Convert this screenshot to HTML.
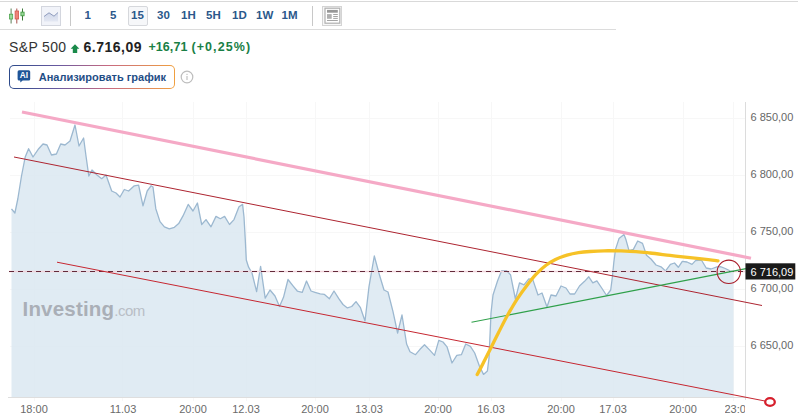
<!DOCTYPE html>
<html><head><meta charset="utf-8">
<style>
html,body{margin:0;padding:0;background:#fff;}
body{width:798px;height:419px;overflow:hidden;position:relative;font-family:"Liberation Sans",sans-serif;}
.abs{position:absolute;}
.tb{position:absolute;top:8px;font-size:11.5px;font-weight:bold;color:#2b588b;letter-spacing:0;line-height:14px;}
.xl{position:absolute;top:403px;font-size:11px;color:#6a6a6a;line-height:12px;transform:translateX(-50%);white-space:nowrap;}
.yl{position:absolute;left:750.500px;font-size:11px;color:#666;line-height:12px;white-space:nowrap;}
</style></head><body>
<!-- top border and toolbar line -->
<div class="abs" style="left:0;top:1px;width:798px;height:1px;background:#d9d9d9;"></div>
<div class="abs" style="left:0;top:29px;width:616px;height:1px;background:#dcdcdc;"></div>

<!-- candle icon -->
<svg class="abs" style="left:8px;top:7px" width="18" height="18" viewBox="0 0 18 18">
 <line x1="3.100" y1="1.500" x2="3.100" y2="16.500" stroke="#5d7f58" stroke-width="1"/>
 <rect x="1.500" y="7.200" width="3.200" height="4.800" fill="#9ad89a" stroke="#4fa54f" stroke-width="0.800"/>
 <line x1="8.800" y1="1.500" x2="8.800" y2="16.500" stroke="#a8504a" stroke-width="1"/>
 <rect x="7.100" y="4" width="3.500" height="8" fill="#ee8278" stroke="#d2554c" stroke-width="0.800"/>
 <line x1="14.500" y1="1.500" x2="14.500" y2="13.500" stroke="#3f7a3a" stroke-width="1"/>
 <rect x="12.900" y="5.100" width="3.200" height="3.700" fill="#9ad89a" stroke="#3d9a3d" stroke-width="0.800"/>
</svg>
<!-- area icon button -->
<div class="abs" style="left:41px;top:6px;width:20px;height:19.500px;border:1px solid #d3d6de;background:#f1f3f9;box-sizing:border-box;"></div>
<svg class="abs" style="left:41px;top:6px" width="20" height="20" viewBox="0 0 20 20">
 <defs><linearGradient id="ag" x1="0" y1="0" x2="0" y2="1"><stop offset="0" stop-color="#cfd7ea"/><stop offset="1" stop-color="#e3e7f2"/></linearGradient></defs>
 <polygon points="3,10.500 8,6.800 13,10.200 17,6.500 17,15.500 3,15.500" fill="url(#ag)"/>
 <polyline points="3,10.500 8,6.800 13,10.200 17,6.500" fill="none" stroke="#8e9bbd" stroke-width="1"/>
</svg>
<div class="abs" style="left:70px;top:6px;width:1px;height:20px;background:#c8c8c8;"></div>

<div class="tb" style="left:84.5px">1</div>
<div class="tb" style="left:110px">5</div>
<div class="abs" style="left:128px;top:6px;width:19.700px;height:19.500px;border:1px solid #d6d8dc;border-radius:2px;background:#f6f7f9;box-sizing:border-box;"></div>
<div class="tb" style="left:131px">15</div>
<div class="tb" style="left:157px">30</div>
<div class="tb" style="left:181px">1H</div>
<div class="tb" style="left:206px">5H</div>
<div class="tb" style="left:232px">1D</div>
<div class="tb" style="left:256px">1W</div>
<div class="tb" style="left:281.5px">1M</div>
<div class="abs" style="left:312px;top:6px;width:1px;height:20px;background:#c8c8c8;"></div>
<!-- news icon -->
<div class="abs" style="left:322px;top:6px;width:20px;height:19.500px;border:1px solid #d4d4d4;background:#f7f7f7;box-sizing:border-box;"></div>
<svg class="abs" style="left:322px;top:6px" width="20" height="20" viewBox="0 0 20 20">
 <rect x="3" y="2.200" width="14.800" height="15" fill="#fff" stroke="#b0b0b0" stroke-width="1.200"/>
 <rect x="5" y="3.900" width="10.800" height="2.800" fill="#989898"/>
 <rect x="5" y="8.100" width="4.700" height="4.700" fill="#b0b0b0"/>
 <rect x="11.200" y="8.100" width="4.600" height="0.900" fill="#9a9a9a"/>
 <rect x="11.200" y="10" width="4.600" height="0.900" fill="#9a9a9a"/>
 <rect x="11.200" y="11.900" width="4.600" height="0.900" fill="#9a9a9a"/>
 <rect x="5" y="14" width="10.800" height="0.900" fill="#9a9a9a"/>
</svg>

<!-- title -->
<div class="abs" style="left:9px;top:40px;font-size:14px;letter-spacing:0.35px;color:#333;line-height:15px;white-space:nowrap;">S&amp;P 500</div>
<svg class="abs" style="left:69px;top:42px" width="12" height="12" viewBox="0 0 12 12"><polygon points="6,2.3 10.4,6.8 8.2,6.8 8.2,11 3.8,11 3.8,6.8 1.6,6.8" fill="#1a8a4a"/></svg>
<div class="abs" style="left:83.5px;top:40px;font-size:14px;letter-spacing:0.5px;font-weight:bold;color:#222;line-height:15px;white-space:nowrap;">6.716,09</div>
<div class="abs" style="left:148.500px;top:40px;font-size:12.500px;letter-spacing:0.050px;font-weight:bold;color:#1a7f46;line-height:15px;white-space:nowrap;">+16,71</div>
<div class="abs" style="left:191.400px;top:40px;font-size:12.500px;letter-spacing:1.100px;font-weight:bold;color:#1a7f46;line-height:15px;white-space:nowrap;">(+0,25%)</div>

<!-- AI button -->
<div class="abs" style="left:9px;top:65px;width:166px;height:24px;border-radius:5px;background:linear-gradient(90deg,#2c4a8a 0%,#6a5aa0 30%,#c86a80 60%,#f0a040 100%);"></div>
<div class="abs" style="left:10px;top:66px;width:164px;height:22px;border-radius:4px;background:#fff;"></div>
<svg class="abs" style="left:16px;top:69px" width="16" height="16" viewBox="0 0 16 16">
 <path d="M3.100 1.300h9.600a1.500 1.500 0 0 1 1.500 1.500v7.300a1.500 1.500 0 0 1-1.500 1.500H6.700L4.300 13.600v-2H3.100a1.500 1.500 0 0 1-1.500-1.500V2.800a1.500 1.500 0 0 1 1.500-1.500z" fill="#1f5597"/>
 <text x="7.900" y="9.400" font-family="Liberation Sans" font-size="8.300" font-weight="bold" fill="#fff" text-anchor="middle">AI</text>
</svg>
<div class="abs" style="left:38.700px;top:70px;font-size:11px;font-weight:bold;color:#1f4e86;line-height:14px;white-space:nowrap;">Анализировать график</div>
<svg class="abs" style="left:180.200px;top:69.700px" width="14" height="14" viewBox="0 0 14 14">
 <circle cx="7" cy="7" r="5.800" fill="none" stroke="#bdbdbd" stroke-width="1.200"/>
 <rect x="6.4" y="6" width="1.2" height="4" fill="#c2c2c2"/><rect x="6.4" y="3.8" width="1.2" height="1.2" fill="#c2c2c2"/>
</svg>

<!-- chart -->
<svg class="abs" style="left:0;top:0" width="798" height="419" viewBox="0 0 798 419">
 <!-- grid -->
 <g stroke="#f7f7f7" stroke-width="1">
  <line x1="10" y1="118.5" x2="745" y2="118.5"/><line x1="10" y1="175.5" x2="745" y2="175.5"/>
  <line x1="10" y1="232.5" x2="745" y2="232.5"/><line x1="10" y1="289.5" x2="745" y2="289.5"/>
  <line x1="10" y1="346.5" x2="745" y2="346.5"/>
  <line x1="34.5" y1="102" x2="34.5" y2="401"/><line x1="122.500" y1="102" x2="122.500" y2="401"/>
  <line x1="193.500" y1="102" x2="193.500" y2="401"/><line x1="246.500" y1="102" x2="246.500" y2="401"/>
  <line x1="315.500" y1="102" x2="315.500" y2="401"/><line x1="369.500" y1="102" x2="369.500" y2="401"/>
  <line x1="438.500" y1="102" x2="438.500" y2="401"/><line x1="491.500" y1="102" x2="491.500" y2="401"/>
  <line x1="561.500" y1="102" x2="561.500" y2="401"/><line x1="613.500" y1="102" x2="613.500" y2="401"/>
  <line x1="683.500" y1="102" x2="683.500" y2="401"/><line x1="733.500" y1="102" x2="733.500" y2="401"/>
 </g>
 <line x1="745.5" y1="102" x2="745.500" y2="400" stroke="#dcdcdc" stroke-width="1"/>
 <line x1="8" y1="397.500" x2="745" y2="397.500" stroke="#dedede" stroke-width="1"/>
 <!-- area -->
 <polygon points="11.5,397 11.5,208.8 14.9,213.0 17.8,199.0 21.5,176.0 25.2,157.0 28.6,148.7 33.0,157.0 38.7,148.7 43.0,144.0 47.0,145.0 51.5,155.0 56.4,154.0 60.7,144.0 65.0,145.0 70.0,141.0 75.0,125.0 79.0,146.0 83.6,138.0 86.0,156.0 88.8,176.0 92.0,170.0 97.0,175.0 101.7,178.7 106.0,175.0 111.7,191.0 116.0,193.0 120.0,197.0 124.3,189.5 128.6,191.0 134.3,185.8 138.6,185.2 143.0,205.8 147.2,191.0 151.0,185.8 153.0,187.0 155.8,208.7 160.0,221.6 164.4,226.8 169.3,228.8 174.4,227.3 178.7,223.6 183.0,215.9 188.2,204.4 193.0,211.0 197.4,203.0 201.7,224.5 206.0,219.6 211.0,226.8 216.0,216.4 220.3,218.7 224.6,216.4 229.5,224.5 234.0,219.6 239.0,206.7 242.6,204.4 244.0,217.0 245.3,240.0 246.3,260.0 248.6,267.2 252.0,273.0 256.6,291.6 260.6,266.4 265.2,298.2 270.0,290.0 275.0,296.0 279.5,306.5 283.5,297.3 288.0,279.5 293.0,285.8 297.3,291.0 302.2,292.4 306.5,281.0 311.0,291.0 315.0,292.4 320.2,293.9 324.5,294.4 329.4,298.7 334.0,291.0 338.8,298.7 343.0,304.5 347.4,307.9 351.7,306.5 356.0,301.6 360.3,307.3 365.0,321.0 369.0,286.6 374.3,256.0 379.7,275.8 384.0,290.0 388.0,292.0 393.0,311.7 397.6,333.0 402.0,315.0 406.6,344.0 410.0,351.8 415.5,354.7 420.0,349.3 424.5,344.7 430.0,350.4 434.5,355.4 438.8,340.4 443.0,342.0 447.0,346.8 452.0,363.0 456.8,355.4 461.4,354.7 465.7,344.0 470.4,346.4 474.7,353.0 479.4,366.0 483.5,374.4 487.4,371.0 489.0,358.0 491.0,313.0 493.0,295.0 497.6,280.8 501.6,270.7 506.5,270.7 510.5,274.7 513.4,289.0 515.4,299.0 519.5,282.8 524.0,284.9 528.8,278.8 532.8,279.6 538.0,295.0 542.0,293.0 547.0,307.0 551.0,295.0 556.0,296.0 561.0,286.0 566.0,288.0 570.0,294.0 574.6,294.0 579.5,286.0 584.3,281.6 588.8,276.8 592.8,282.8 596.9,280.8 601.7,288.0 606.6,295.5 610.7,290.0 612.4,276.8 613.8,262.5 615.5,249.4 619.0,238.6 624.0,234.6 626.0,239.8 629.0,250.6 633.4,249.4 637.7,241.0 642.5,243.4 646.5,255.3 651.0,259.0 656.0,265.0 661.0,266.8 665.6,270.9 670.4,264.4 674.5,263.0 678.3,267.3 682.3,261.3 687.0,262.0 692.0,264.4 695.5,260.6 701.4,260.0 706.2,268.0 711.0,269.0 717.0,266.8 720.5,266.6 725.3,268.5 730.0,270.9 733.5,271.6 733.5,397" fill="#dbe7f1" fill-opacity="0.85"/>
 <polyline points="11.5,208.8 14.9,213.0 17.8,199.0 21.5,176.0 25.2,157.0 28.6,148.7 33.0,157.0 38.7,148.7 43.0,144.0 47.0,145.0 51.5,155.0 56.4,154.0 60.7,144.0 65.0,145.0 70.0,141.0 75.0,125.0 79.0,146.0 83.6,138.0 86.0,156.0 88.8,176.0 92.0,170.0 97.0,175.0 101.7,178.7 106.0,175.0 111.7,191.0 116.0,193.0 120.0,197.0 124.3,189.5 128.6,191.0 134.3,185.8 138.6,185.2 143.0,205.8 147.2,191.0 151.0,185.8 153.0,187.0 155.8,208.7 160.0,221.6 164.4,226.8 169.3,228.8 174.4,227.3 178.7,223.6 183.0,215.9 188.2,204.4 193.0,211.0 197.4,203.0 201.7,224.5 206.0,219.6 211.0,226.8 216.0,216.4 220.3,218.7 224.6,216.4 229.5,224.5 234.0,219.6 239.0,206.7 242.6,204.4 244.0,217.0 245.3,240.0 246.3,260.0 248.6,267.2 252.0,273.0 256.6,291.6 260.6,266.4 265.2,298.2 270.0,290.0 275.0,296.0 279.5,306.5 283.5,297.3 288.0,279.5 293.0,285.8 297.3,291.0 302.2,292.4 306.5,281.0 311.0,291.0 315.0,292.4 320.2,293.9 324.5,294.4 329.4,298.7 334.0,291.0 338.8,298.7 343.0,304.5 347.4,307.9 351.7,306.5 356.0,301.6 360.3,307.3 365.0,321.0 369.0,286.6 374.3,256.0 379.7,275.8 384.0,290.0 388.0,292.0 393.0,311.7 397.6,333.0 402.0,315.0 406.6,344.0 410.0,351.8 415.5,354.7 420.0,349.3 424.5,344.7 430.0,350.4 434.5,355.4 438.8,340.4 443.0,342.0 447.0,346.8 452.0,363.0 456.8,355.4 461.4,354.7 465.7,344.0 470.4,346.4 474.7,353.0 479.4,366.0 483.5,374.4 487.4,371.0 489.0,358.0 491.0,313.0 493.0,295.0 497.6,280.8 501.6,270.7 506.5,270.7 510.5,274.7 513.4,289.0 515.4,299.0 519.5,282.8 524.0,284.9 528.8,278.8 532.8,279.6 538.0,295.0 542.0,293.0 547.0,307.0 551.0,295.0 556.0,296.0 561.0,286.0 566.0,288.0 570.0,294.0 574.6,294.0 579.5,286.0 584.3,281.6 588.8,276.8 592.8,282.8 596.9,280.8 601.7,288.0 606.6,295.5 610.7,290.0 612.4,276.8 613.8,262.5 615.5,249.4 619.0,238.6 624.0,234.6 626.0,239.8 629.0,250.6 633.4,249.4 637.7,241.0 642.5,243.4 646.5,255.3 651.0,259.0 656.0,265.0 661.0,266.8 665.6,270.9 670.4,264.4 674.5,263.0 678.3,267.3 682.3,261.3 687.0,262.0 692.0,264.4 695.5,260.6 701.4,260.0 706.2,268.0 711.0,269.0 717.0,266.8 720.5,266.6 725.3,268.5 730.0,270.9 733.5,271.6" fill="none" stroke="#9cb8d0" stroke-width="1.300" stroke-linejoin="round"/>
 <!-- dashed price line -->
 <line x1="9" y1="271.5" x2="745" y2="271.5" stroke="#f1d3da" stroke-width="1.400"/>
 <line x1="9" y1="271.5" x2="745" y2="271.5" stroke="#642a3a" stroke-width="1" stroke-dasharray="5,4"/>
 <!-- pink line -->
 <line x1="22" y1="112" x2="751" y2="258.200" stroke="#f5a9c6" stroke-width="3.2"/>
 <!-- upper red -->
 <line x1="14" y1="157" x2="762" y2="305.5" stroke="#ad2430" stroke-width="1"/>
 <!-- lower red -->
 <line x1="57" y1="262.2" x2="770" y2="402" stroke="#c62731" stroke-width="1"/>
 <!-- green -->
 <line x1="471.500" y1="322.3" x2="746" y2="268.6" stroke="#2fa04a" stroke-width="1.1"/>
 <!-- yellow curve -->
 <path d="M477.2 374.6 C478.1 372.8,480.7 368.1,482.9 363.7 C485.1 359.3,488.1 353.6,490.6 348.5 C493.2 343.4,495.3 338.8,498.2 333.2 C501.1 327.6,504.6 320.5,507.8 314.8 C511.0 309.1,514.1 303.7,517.3 298.8 C520.5 293.9,523.7 289.5,526.9 285.4 C530.1 281.2,533.2 277.3,536.4 273.9 C539.6 270.5,542.8 267.6,546.0 265.2 C549.2 262.8,552.0 261.1,555.5 259.4 C559.0 257.7,563.2 256.3,567.0 255.2 C570.8 254.1,574.7 253.3,578.5 252.7 C582.3 252.1,585.8 251.8,590.0 251.5 C594.2 251.2,599.0 250.9,604.0 250.8 C609.0 250.7,614.7 250.8,620.0 250.9 C625.3 251.1,631.0 251.3,636.0 251.7 C641.0 252.0,644.3 252.4,650.0 253.0 C655.7 253.6,663.3 254.6,670.0 255.4 C676.7 256.2,683.6 256.9,690.0 257.6 C696.4 258.3,703.6 259.1,708.3 259.6 C713.0 260.1,716.4 260.6,718.0 260.8" fill="none" stroke="#f6c227" stroke-width="3.300" stroke-linecap="round"/>
 <!-- circle -->
 <circle cx="728.800" cy="271.800" r="11.700" fill="none" stroke="#a81c28" stroke-width="1.1"/>
 <!-- ellipse -->
 <ellipse cx="770" cy="402" rx="4.800" ry="3.800" fill="#fff" stroke="#d61f2c" stroke-width="2.300"/>
 <!-- price label -->
 <rect x="745.500" y="263.300" width="49.800" height="16.200" fill="#1a1a1a"/>
</svg>
<div class="abs" style="left:750.500px;top:266px;font-size:11px;color:#fff;line-height:12px;white-space:nowrap;">6 716,09</div>

<!-- y labels -->
<div class="yl" style="top:111.400px">6 850,00</div>
<div class="yl" style="top:168.400px">6 800,00</div>
<div class="yl" style="top:225.400px">6 750,00</div>
<div class="yl" style="top:282.400px">6 700,00</div>
<div class="yl" style="top:339.400px">6 650,00</div>

<!-- x labels -->
<div class="xl" style="left:34px">18:00</div>
<div class="xl" style="left:123px">11.03</div>
<div class="xl" style="left:193px">20:00</div>
<div class="xl" style="left:246px">12.03</div>
<div class="xl" style="left:315px">20:00</div>
<div class="xl" style="left:369px">13.03</div>
<div class="xl" style="left:438px">20:00</div>
<div class="xl" style="left:491px">16.03</div>
<div class="xl" style="left:561px">20:00</div>
<div class="xl" style="left:613px">17.03</div>
<div class="xl" style="left:683px">20:00</div>
<div class="abs" style="left:724.500px;top:403px;width:20.500px;overflow:hidden;font-size:11px;color:#6a6a6a;line-height:12px;white-space:nowrap;">23:00</div>

<!-- watermark -->
<div class="abs" style="left:22.500px;top:296px;font-size:20.500px;font-weight:bold;color:#aaafb7;line-height:26px;letter-spacing:0.200px;white-space:nowrap;">Investing<span style="font-size:15px;font-weight:normal;letter-spacing:-0.500px;color:#b9bec6;">.com</span></div>
</body></html>
